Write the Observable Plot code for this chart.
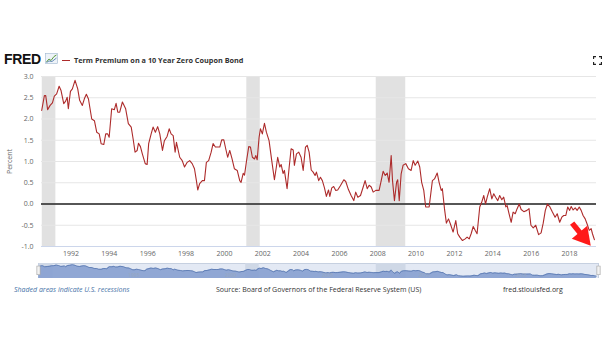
<!DOCTYPE html>
<html><head><meta charset="utf-8">
<script src="https://cdn.jsdelivr.net/npm/d3@7"></script>
<script src="https://cdn.jsdelivr.net/npm/@observablehq/plot@0.6"></script>
<style>
body{margin:0;background:#fff;font-family:"Open Sans",Arial,sans-serif;}
#page{position:relative;width:605px;height:341px;overflow:hidden;}
.abs{position:absolute;}
#logo{left:4px;top:51px;font:bold 14px "Liberation Sans",Arial,sans-serif;color:#111;letter-spacing:-0.3px;}
#title{left:62px;top:55px;font:bold 7.3px "Open Sans",Arial,sans-serif;color:#333;white-space:nowrap;}
#title .sw{display:inline-block;width:8px;height:1.5px;background:#ad2b2b;vertical-align:middle;margin-right:4px;margin-top:-1px;}
.foot{top:285px;font-size:7px;white-space:nowrap;color:#333;}
</style></head>
<body><div id="page">
<div id="logo" class="abs">FRED</div>
<svg class="abs" style="left:45px;top:53px" width="13" height="11"><rect x="0.5" y="0.5" width="12" height="10" fill="#eef3f8" stroke="#9fb5cf" stroke-width="0.6"/><polyline points="1.5,9 4,6 6,7.5 9,3.5 11.5,2" fill="none" stroke="#5a9a3c" stroke-width="1"/><polyline points="1.5,9.5 4,8 7,8.5 11.5,5" fill="none" stroke="#4572a7" stroke-width="0.8"/></svg>
<div id="title" class="abs"><span class="sw"></span>Term Premium on a 10 Year Zero Coupon Bond</div>
<svg class="abs" style="left:593px;top:56px" width="9" height="9"><path d="M0.5,3V0.5H3M6,0.5H8.5V3M8.5,6V8.5H6M3,8.5H0.5V6" fill="none" stroke="#222" stroke-width="1.3"/></svg>
<div id="main" class="abs" style="left:0;top:70px"></div>
<div id="nav" class="abs" style="left:0;top:263px"></div>
<div class="abs foot" style="left:14px;color:#4572a7;font-style:italic">Shaded areas indicate U.S. recessions</div>
<div class="abs foot" style="left:216px">Source: Board of Governors of the Federal Reserve System (US)</div>
<div class="abs foot" style="left:503px">fred.stlouisfed.org</div>
</div>
<script>
const dates = [1990.47,1990.61,1990.68,1990.78,1990.91,1991.03,1991.13,1991.25,1991.38,1991.48,1991.62,1991.72,1991.80,1991.86,1991.97,1992.07,1992.21,1992.35,1992.45,1992.59,1992.70,1992.80,1992.91,1993.08,1993.22,1993.34,1993.47,1993.57,1993.71,1993.81,1993.91,1993.99,1994.12,1994.26,1994.35,1994.44,1994.54,1994.68,1994.85,1994.99,1995.14,1995.24,1995.34,1995.45,1995.52,1995.62,1995.72,1995.87,1995.97,1996.05,1996.18,1996.28,1996.40,1996.52,1996.63,1996.77,1996.87,1997.01,1997.12,1997.22,1997.33,1997.43,1997.50,1997.67,1997.80,1997.92,1998.06,1998.19,1998.32,1998.44,1998.54,1998.61,1998.71,1998.85,1998.96,1999.06,1999.18,1999.31,1999.41,1999.53,1999.65,1999.76,1999.86,1999.97,2000.07,2000.17,2000.28,2000.40,2000.52,2000.67,2000.80,2000.87,2000.98,2001.05,2001.15,2001.27,2001.36,2001.46,2001.57,2001.64,2001.71,2001.81,2001.88,2001.98,2002.09,2002.19,2002.33,2002.47,2002.61,2002.71,2002.78,2002.89,2002.96,2003.06,2003.13,2003.27,2003.38,2003.48,2003.59,2003.65,2003.76,2003.88,2004.00,2004.11,2004.23,2004.32,2004.42,2004.53,2004.63,2004.73,2004.80,2004.92,2005.01,2005.11,2005.22,2005.32,2005.43,2005.50,2005.60,2005.70,2005.81,2005.91,2006.05,2006.23,2006.33,2006.47,2006.61,2006.75,2006.85,2006.96,2007.10,2007.24,2007.34,2007.45,2007.55,2007.66,2007.76,2007.90,2008.07,2008.18,2008.28,2008.39,2008.49,2008.59,2008.70,2008.77,2008.87,2008.98,2009.04,2009.12,2009.22,2009.32,2009.46,2009.60,2009.74,2009.85,2009.95,2010.09,2010.19,2010.29,2010.40,2010.50,2010.68,2010.85,2010.96,2011.10,2011.20,2011.31,2011.37,2011.48,2011.58,2011.69,2011.79,2011.93,2012.07,2012.17,2012.28,2012.42,2012.56,2012.66,2012.77,2012.87,2012.98,2013.08,2013.18,2013.32,2013.42,2013.53,2013.62,2013.71,2013.84,2013.95,2014.05,2014.15,2014.26,2014.36,2014.47,2014.57,2014.68,2014.75,2014.85,2014.96,2015.06,2015.17,2015.27,2015.38,2015.48,2015.62,2015.78,2015.89,2015.99,2016.11,2016.24,2016.39,2016.52,2016.63,2016.74,2016.85,2016.98,2017.11,2017.25,2017.36,2017.49,2017.60,2017.70,2017.81,2017.91,2018.01,2018.09,2018.19,2018.30,2018.40,2018.51,2018.61,2018.71,2018.82,2018.92,2019.03,2019.13,2019.20,2019.30];
const values = [2.20,2.55,2.55,2.22,2.32,2.38,2.54,2.59,2.77,2.67,2.36,2.42,2.51,2.24,2.65,2.71,2.91,2.71,2.44,2.32,2.48,2.58,2.47,2.00,1.96,1.69,1.65,1.42,1.40,1.65,1.65,1.57,2.24,2.22,2.37,2.16,2.16,2.40,2.24,1.89,1.81,1.53,1.22,1.26,1.43,1.35,1.18,0.95,0.93,1.42,1.65,1.81,1.69,1.82,1.65,1.26,1.49,1.59,1.77,1.65,1.61,1.22,1.45,1.10,1.02,0.87,0.98,1.02,0.95,0.83,0.55,0.33,0.48,0.55,0.55,0.98,1.02,1.22,1.42,1.34,1.34,1.34,1.51,1.51,1.30,1.10,1.26,1.06,0.83,0.79,0.55,0.51,0.72,0.68,1.00,1.35,1.34,1.10,1.06,1.14,1.04,1.57,1.77,1.65,1.90,1.69,1.49,1.02,0.57,0.87,1.10,0.87,0.93,0.72,0.79,0.36,0.87,1.30,1.27,0.91,1.18,1.22,1.10,0.79,1.34,1.38,1.22,0.80,0.75,0.67,0.75,0.55,0.63,0.55,0.38,0.18,0.33,0.18,0.38,0.41,0.32,0.33,0.43,0.57,0.53,0.34,0.20,0.08,0.28,0.16,0.20,0.40,0.55,0.36,0.44,0.40,0.28,0.32,0.32,0.55,0.77,0.67,0.73,0.51,1.14,0.55,0.08,0.51,0.57,0.08,0.71,0.91,0.95,0.83,0.79,1.02,0.91,1.01,0.87,0.51,0.32,-0.07,-0.07,0.55,0.59,0.73,0.51,0.32,0.36,-0.11,-0.45,-0.35,-0.47,-0.66,-0.39,-0.70,-0.78,-0.86,-0.82,-0.78,-0.82,-0.70,-0.53,-0.62,-0.70,-0.07,0.04,0.20,0.00,0.16,0.36,0.12,0.24,0.16,0.08,0.20,0.10,0.16,-0.07,-0.04,-0.23,-0.43,-0.19,-0.23,-0.11,0.00,-0.13,-0.18,-0.15,-0.11,-0.50,-0.56,-0.50,-0.72,-0.68,-0.45,-0.15,0.00,-0.07,-0.19,-0.31,-0.23,-0.43,-0.31,-0.27,-0.27,-0.07,-0.15,-0.06,-0.14,-0.09,-0.15,-0.07,-0.15,-0.27,-0.35,-0.47,-0.62,-0.58,-0.70,-0.84];
const recessionStarts = [1990.50, 2001.17, 2007.92];
const recessionEnds = [1991.21, 2001.87, 2009.46];
const yTicks = [-1.0,-0.5,0.0,0.5,1.0,1.5,2.0,2.5,3.0];
const xTicks = [1992,1994,1996,1998,2000,2002,2004,2006,2008,2010,2012,2014,2016,2018];
const navTicks = [1995,2000,2005,2010,2015];
const arrowTail = {date: 2018.14, value: -0.45};
const arrowHead = {date: 2018.72, value: -0.77};
const xDomain = [1990.46, 2019.41];

const series = dates.map((d,i)=>({date:d, value:values[i]}));
const recessions = recessionStarts.map((s,i)=>({start:s, end:recessionEnds[i]}));

const main = Plot.plot({
  width:605, height:196, marginTop:6, marginBottom:20, marginLeft:41, marginRight:9,
  style:{fontFamily:"'Open Sans', Arial, sans-serif", fontSize:"7px", color:"#666", background:"transparent"},
  x:{domain:xDomain},
  y:{domain:[-1,3]},
  marks:[
    Plot.rect(recessions,{x1:"start",x2:"end",fill:"#e1e1e1"}),
    Plot.gridY(yTicks,{stroke:"#e6e6e6",strokeOpacity:1}),
    Plot.ruleY([-1],{stroke:"#ccd6eb"}),
    Plot.axisY(yTicks,{tickSize:0,tickPadding:8,tickFormat:d=>d.toFixed(1),label:"Percent",labelAnchor:"center",labelArrow:"none",labelOffset:34,fill:"#666"}),
    Plot.axisX(xTicks,{tickSize:0,tickPadding:5,tickFormat:d=>String(d),label:null,fill:"#666"}),
    Plot.ruleY([0],{stroke:"#222",strokeWidth:1.6}),
    Plot.line(series,{x:"date",y:"value",stroke:"#ad2b2b",strokeWidth:1.1}),
    Plot.link([{x1:arrowTail.date,y1:arrowTail.value,x2:arrowHead.date,y2:arrowHead.value}],{x1:"x1",y1:"y1",x2:"x2",y2:"y2",stroke:"#ff1a1a",strokeWidth:5.5}),
    Plot.dot([arrowHead],{x:"date",y:"value",symbol:"triangle",r:7.5,rotate:140,fill:"#ff1a1a",stroke:"none"})
  ]
});
document.getElementById("main").appendChild(main);

const nav = Plot.plot({
  width:605, height:15, marginTop:0, marginBottom:0, marginLeft:38, marginRight:7,
  style:{fontFamily:"'Open Sans', Arial, sans-serif", fontSize:"5px", background:"transparent"},
  x:{domain:xDomain, axis:null},
  y:{domain:[-1.6,3.3], axis:null},
  marks:[
    Plot.frame({fill:"#e3e9f4",stroke:"#c6d0e0"}),
    Plot.rect(recessions,{x1:"start",x2:"end",fill:"#cfd8e6"}),
    Plot.areaY(series,{x:"date",y1:-1.6,y2:"value",fill:"#86a0d0",fillOpacity:0.9}),
    Plot.line(series,{x:"date",y:"value",stroke:"#4f70aa",strokeWidth:0.7}),
    Plot.text(navTicks,{x:d=>d,y:-0.6,text:d=>String(d),fill:"#9aa7c0",textAnchor:"start",dx:2}),
    Plot.ruleX([xDomain[0],xDomain[1]],{stroke:"#aaa",strokeWidth:4,y1:-0.6,y2:2.4}),
    Plot.ruleX([xDomain[0],xDomain[1]],{stroke:"#f2f2f2",strokeWidth:2.6,y1:-0.4,y2:2.2})
  ]
});
document.getElementById("nav").appendChild(nav);
</script>
</body></html>
